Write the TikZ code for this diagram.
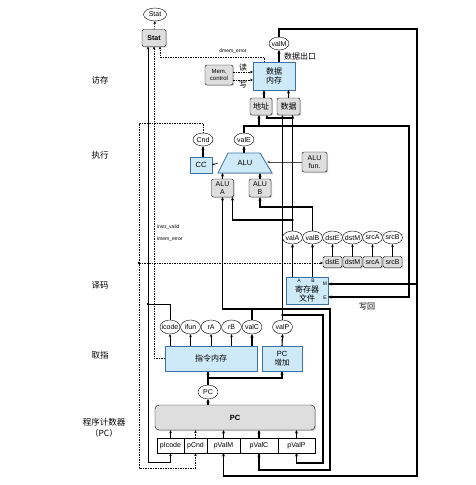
\documentclass[tikz,border=0pt]{standalone}
\usepackage{fontspec}
\setsansfont{Liberation Sans}
\newfontfamily\cjk{Noto Sans CJK SC}
\usetikzlibrary{arrows.meta,positioning,shapes.geometric,shadows}

\definecolor{memfill}{RGB}{206,233,248}
\definecolor{memedge}{RGB}{62,112,168}
\definecolor{boxgray}{RGB}{222,222,222}

\begin{document}
\begin{tikzpicture}[x=1pt,y=-1pt,
    every node/.style={font=\sffamily\fontsize{7}{8}\selectfont,inner sep=0pt,outer sep=0pt},
    cn/.style={font=\cjk\fontsize{8}{9.5}\selectfont,align=center},
    stagelbl/.style={font=\cjk\fontsize{8.5}{11}\selectfont,align=center},
    sig/.style={ellipse,draw,fill=white,inner xsep=-1.5pt,minimum width=20pt,minimum height=13pt},
    bluline/.style={draw=memedge,line width=.8pt,fill=memfill,
      drop shadow={opacity=.4,shadow xshift=1.2pt,shadow yshift=-1.2pt}},
    blu/.style={rectangle,bluline,align=center},
    gbox/.style={rectangle,rounded corners=2pt,draw,fill=boxgray,align=center,
      drop shadow={opacity=.4,shadow xshift=1pt,shadow yshift=-1pt}},
    wbox/.style={rectangle,draw,fill=white,minimum height=15pt},
    bus/.style={line width=1.1pt},
    wire/.style={bus,-{Stealth[length=3.5pt,width=3pt]}},
    sigl/.style={line width=.5pt,-{Stealth[length=3pt,width=2.5pt]}},
    ctl/.style={sigl,dash pattern=on 1.5pt off 1pt}]
  \useasboundingbox (0,0) rectangle (475,485);

  % stages
  \node[stagelbl] (lMem) at (100,80)  {访存};
  \node[stagelbl] (lExe) at (100,155) {执行};
  \node[stagelbl] (lDec) at (100,285) {译码};
  \node[stagelbl] (lFet) at (100,355) {取指};
  \node[stagelbl] (lPC)  at (104,428) {程序计数器\\（PC）};

  % status
  \node[sig,minimum width=23pt] (statOut) at (155,14.5) {Stat};
  \node[gbox,minimum width=24pt,minimum height=17pt,font=\sffamily\bfseries\fontsize{7}{8}\selectfont] (stat) at (154,38) {Stat};

  % memory
  \node[blu,cn,minimum width=42pt,minimum height=28pt] (dmem) at (274,76) {数据\\内存};
  \node[gbox,minimum width=28pt,minimum height=20pt,font=\sffamily\fontsize{6}{6.5}\selectfont] (memCtl) at (219,75) {Mem.\\control};
  \node[sig] (valM) at (279,43.5) {valM};
  \node[gbox,cn,minimum width=22pt,minimum height=17pt] (addr) at (261,106.5) {地址};
  \node[gbox,cn,minimum width=23pt,minimum height=17pt] (data) at (288.5,106.5) {数据};
  \node[cn,anchor=west] (doutLbl) at (284,56) {数据出口};
  \node[font=\sffamily\fontsize{5}{6}\selectfont] (dmErr) at (233,51) {dmem\_error};

  % execute
  \node[sig] (cnd)  at (203,139.5) {Cnd};
  \node[sig] (valE) at (244,139.5) {valE};
  \node[blu,minimum width=22pt,minimum height=16pt,font=\sffamily\fontsize{7.5}{8}\selectfont] (cc) at (201,165) {CC};
  \node[rectangle,minimum width=54pt,minimum height=20pt] (alu) at (245,163) {};
  \path[bluline] (alu.south west) -- (alu.south east) -- ([xshift=-12pt]alu.north east)
    -- ([xshift=10pt]alu.north west) -- cycle;
  \node[font=\sffamily\fontsize{7.5}{8}\selectfont] (aluTxt) at (alu) {ALU};
  \node[gbox,minimum width=25pt,minimum height=20pt] (aluFun) at (314.5,162) {ALU\\fun.};
  \node[gbox,minimum width=22pt,minimum height=18pt] (aluA) at (222.5,188) {ALU\\A};
  \node[gbox,minimum width=22pt,minimum height=18pt] (aluB) at (260,188) {ALU\\B};

  % decode
  \node[sig] (valA) at (292.5,237.5) {valA};
  \node[sig] (valB) [right=0pt of valA] {valB};
  \node[sig] (dstE) [right=0pt of valB] {dstE};
  \node[sig] (dstM) [right=0pt of dstE] {dstM};
  \node[sig] (srcA) [right=0pt of dstM] {srcA};
  \node[sig] (srcB) [right=0pt of srcA] {srcB};
  \node[gbox,rounded corners=1.5pt,minimum width=19pt,minimum height=11pt] (dstEb) at (332.5,262) {dstE};
  \node[gbox,rounded corners=1.5pt,minimum width=19pt,minimum height=11pt] (dstMb) [right=1pt of dstEb] {dstM};
  \node[gbox,rounded corners=1.5pt,minimum width=19pt,minimum height=11pt] (srcAb) [right=1pt of dstMb] {srcA};
  \node[gbox,rounded corners=1.5pt,minimum width=19pt,minimum height=11pt] (srcBb) [right=1pt of srcAb] {srcB};
  \node[blu,minimum width=42pt,minimum height=27pt] (regf) at (307,290.5) {};
  \node[cn] (regfTxt) at (307,294) {寄存器\\文件};
  \node[font=\sffamily\fontsize{5}{5}\selectfont] (rfA) at (299,281) {A};
  \node[font=\sffamily\fontsize{5}{5}\selectfont] (rfB) at (313,281) {B};
  \node[font=\sffamily\fontsize{5}{5}\selectfont] (rfM) at (325,284) {M};
  \node[font=\sffamily\fontsize{5}{5}\selectfont] (rfE) at (325,298) {E};
  \node[cn] (wbLbl) at (367,307) {写回};
  \node[font=\sffamily\fontsize{5}{6}\selectfont,anchor=west] (ivLbl) at (157,227) {instr\_valid};
  \node[font=\sffamily\fontsize{5}{6}\selectfont,anchor=west] (ieLbl) at (157,239) {imem\_error};

  % fetch
  \node[sig,minimum height=14pt] (icode) at (170,327) {icode};
  \node[sig,minimum height=14pt] (ifun) [right=0.5pt of icode] {ifun};
  \node[sig,minimum height=14pt] (rA)   [right=0.5pt of ifun] {rA};
  \node[sig,minimum height=14pt] (rB)   [right=0.5pt of rA] {rB};
  \node[sig,minimum height=14pt] (valC) [right=0.5pt of rB] {valC};
  \node[sig,minimum height=14pt] (valP) at (282.5,327) {valP};
  \node[blu,cn,minimum width=92pt,minimum height=25pt] (imem) at (211,358.5) {指令内存};
  \node[blu,minimum width=40pt,minimum height=25pt,font=\sffamily\fontsize{7.5}{9.5}\selectfont] (pcInc) at (282,358.5) {PC\\{\cjk 增加}};

  % pc
  \node[sig,minimum height=14pt] (pcVal) at (208,392) {PC};
  \node[rectangle,rounded corners=4pt,draw,fill=boxgray,minimum width=160pt,minimum height=25pt,
        font=\sffamily\bfseries\fontsize{7.5}{8}\selectfont,drop shadow={opacity=.4,shadow xshift=1.2pt,shadow yshift=-1.2pt}] (pcReg) at (235,417.5) {PC};
  \node[wbox,minimum width=27pt] (pIcode) at (170.5,445.5) {pIcode};
  \node[wbox,minimum width=23pt] (pCnd)  [right=0pt of pIcode] {pCnd};
  \node[wbox,minimum width=33pt] (pValM) [right=0pt of pCnd] {pValM};
  \node[wbox,minimum width=38pt] (pValC) [right=0pt of pValM] {pValC};
  \node[wbox,minimum width=37pt] (pValP) [right=0pt of pValC] {pValP};

  % junctions and rails
  \coordinate (mTop) at (417,29);
  \coordinate (mBot) at (417,476);
  \coordinate (jM)   at (417,284);
  \coordinate (eTop) at (409,126);
  \coordinate (eIn)  at (409,297);
  \coordinate (jE)   at (259,126);
  \coordinate (jA1)  at (292.5,220);
  \coordinate (jA2)  at (292.5,118);
  \coordinate (jC)   at (252,309);
  \coordinate (cR)   at (330,309);
  \coordinate (cBot) at (330,470);
  \coordinate (jP)   at (282.5,315);
  \coordinate (pR)   at (323,315);
  \coordinate (pBot) at (323,463);
  \coordinate (jI)   at (148,304);
  \coordinate (iBot) at (148,462);
  \coordinate (cndL) at (139,123);
  \coordinate (jD)   at (139,263);
  \coordinate (cndB) at (139,468);
  \coordinate (jPC)  at (208,378);

  % memory stage
  \draw[wire] (valM.south |- dmem.north) -- (valM.south);
  \draw[wire] ([xshift=3pt]addr.north) -- ([xshift=3pt]addr.north |- dmem.south);
  \draw[wire] (data.north) -- (data.north |- dmem.south);
  \draw[ctl] ([yshift=3pt]memCtl.east) -- ([yshift=3pt]memCtl.east -| dmem.west)
    node[cn,midway,above=1pt] (rdLbl) {读};
  \draw[ctl] ([yshift=-5pt]memCtl.east) -- ([yshift=-5pt]memCtl.east -| dmem.west)
    node[cn,midway,below=1pt] (wrLbl) {写};
  \draw[ctl] ([xshift=-10pt]dmem.north) -- ++(0,-5) -| ([xshift=6pt]stat.south);
  \draw[ctl] (stat.north) -- (statOut.south);

  % execute stage
  \draw[wire] (valE.south |- alu.north) -- (valE.south);
  \draw[wire] (cnd.south |- cc.north) -- (cnd.south);
  \draw[sigl] (alu.west) -- (cc.east);
  \draw[sigl,draw=black!70] (aluFun.west) -- ([xshift=-5pt]aluFun.west -| alu.east);
  \draw[wire] (aluA.north) -- (aluA.north |- alu.south);
  \draw[wire] (aluB.north) -- (aluB.north |- alu.south);

  % valE, valM back to registers and PC
  \draw[wire] (valE.north) |- (eTop) -- (eIn) -- (eIn -| regf.east);
  \draw[wire] (jE) -- (jE |- addr.south);
  \draw[wire] (valM.north) |- (mTop) -- (mBot) -| (pValM.south);
  \draw[wire] (jM) -- (jM -| regf.east);

  % decode stage
  \draw[wire] (valA.south |- regf.north) -- (valA.south);
  \draw[wire] (valB.south |- regf.north) -- (valB.south);
  \foreach \n in {dstE,dstM,srcA,srcB}
    \draw[sigl] (\n b.north) -- (\n.south);
  \draw[wire] (valA.north) -- (valA.north |- data.south);
  \draw[wire] (jA1) -| ([xshift=10pt]aluA.south);
  \draw[wire] (jA2) -| ([xshift=6pt]addr.south);
  \draw[wire] (valB.north) -- ++(0,-24) -| (aluB.south);

  % fetch stage
  \foreach \n in {icode,ifun,rA,rB}
    \draw[sigl] (\n.south |- imem.north) -- (\n.south);
  \draw[wire] (valC.south |- imem.north) -- (valC.south);
  \draw[wire] (pcInc.north) -- (valP.south);
  \draw[bus] (valC.north) -- (jC);
  \draw[wire] (jC) -| (aluA.south);
  \draw[wire] (jC) -- (cR) -- (cBot) -| (pValC.south);
  \draw[wire] (valP.north) -- (valP.north |- data.south);
  \draw[wire] (jP) -- (pR) -- (pBot) -| (pValP.south);
  \draw[line width=.5pt] (icode.north) |- (jI);
  \draw[sigl] (jI) -- (jI |- stat.south);
  \draw[sigl] (jI) -- (iBot) -| (pIcode.south);
  \draw[ctl] (imem.west) -| (stat.south);
  \draw[ctl] (cnd.north) |- (cndL) -- (cndB) -| (pCnd.south);
  \draw[ctl] (jD) -- (jD -| dstEb.west);

  % pc stage
  \draw[wire] (pcVal.north) -- (pcVal.north |- imem.south);
  \draw[wire] (jPC) -| (pcInc.south);
  \draw[wire] (pcVal.south |- pcReg.north) -- (pcVal.south);
  \draw[sigl] (pIcode.north) -- (pIcode.north |- pcReg.south);
  \draw[ctl] (pCnd.north) -- (pCnd.north |- pcReg.south);
  \foreach \n in {pValM,pValC,pValP}
    \draw[wire] (\n.north) -- (\n.north |- pcReg.south);

  \foreach \j in {jI,jD,jE,jA1,jA2,jC,jP,jPC}
    \fill (\j) circle (1.3pt);
\end{tikzpicture}
\end{document}
